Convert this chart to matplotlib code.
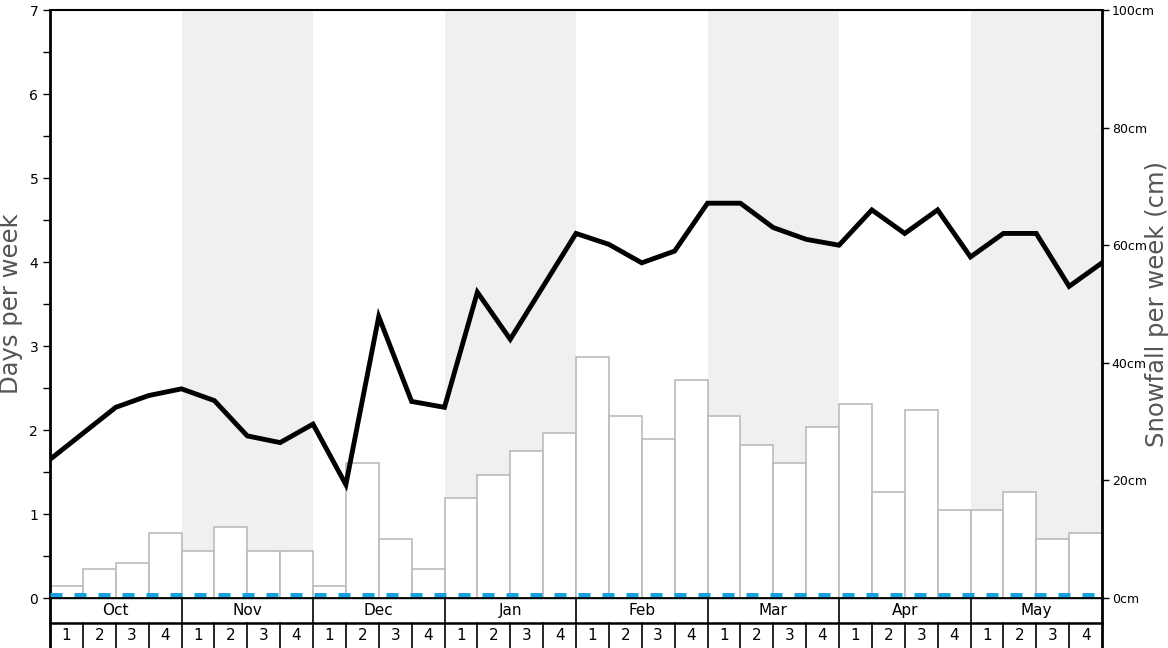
import matplotlib
matplotlib.use("Agg")
import matplotlib.pyplot as plt
import numpy as np

plt.rcParams["lines.scale_dashes"] = False

months = ["Oct", "Nov", "Dec", "Jan", "Feb", "Mar", "Apr", "May"]
week_labels = ["1", "2", "3", "4"]
snowfall_cm = [2, 5, 6, 11, 8, 12, 8, 8, 2, 23, 10, 5, 17, 21, 25, 28,
               41, 31, 27, 37, 31, 26, 23, 29, 33, 18, 32, 15, 15, 18, 10, 11]
snow_days = [1.65, 1.96, 2.27, 2.41, 2.49, 2.35, 1.93, 1.85, 2.07, 1.35, 3.35,
             2.34, 2.27, 3.64, 3.08, 3.71, 4.34, 4.21, 3.99, 4.13, 4.70, 4.70,
             4.41, 4.27, 4.20, 4.62, 4.34, 4.62, 4.06, 4.34, 4.34, 3.71, 3.99]
left_ticks = [0, 1, 2, 3, 4, 5, 6, 7]
right_ticks = [0, 20, 40, 60, 80, 100]

W, H = 1168, 648
fig = plt.figure(figsize=(W / 100, H / 100), dpi=100)
L, R, T, B = 50, 1102, 10, 598
ax = fig.add_axes([L / W, 1 - B / H, (R - L) / W, (B - T) / H])
n = len(snowfall_cm)
ax.set_xlim(0, n)
ax.set_ylim(0, 7)

# shading alternate months
for i in range(len(months)):
    if i % 2 == 1:
        ax.axvspan(i * 4, i * 4 + 4, color="#f0f0f0", zorder=0, lw=0)

# bars (snowfall, scaled to left axis: 100cm == 7)
heights = np.array(snowfall_cm) * 7 / 100
ax.bar(np.arange(n) + 0.5, heights, width=1.0, facecolor="white",
       edgecolor="#bbbbbb", linewidth=1.2, zorder=2)

# blue dashed line at bottom (12px dash, 12px gap)
ax.plot([0, n], [0.03, 0.03], color="#1a9fe0", lw=3.6, linestyle=(0, (8.64, 8.64)),
        solid_capstyle="butt", dash_capstyle="butt", zorder=3)

# black line
ax.plot(np.arange(n + 1), snow_days, color="black", lw=3.5, zorder=4,
        solid_joinstyle="miter")

ax.set_xticks([])
ax.set_yticks(left_ticks)
ax.set_yticks(np.arange(0.5, 7, 1), minor=True)
ax.tick_params(axis="y", which="both", length=5, width=1, labelsize=10)
for s in ["left", "right"]:
    ax.spines[s].set_linewidth(2)
ax.spines["top"].set_linewidth(1.5)
ax.spines["bottom"].set_linewidth(1)
ax.set_ylabel("Days per week", fontsize=17.5, color="#555555")
ax.yaxis.set_label_coords(-0.026, 0.5)

ax2 = ax.twinx()
ax2.set_ylim(0, 100)
ax2.set_yticks(right_ticks)
ax2.set_yticklabels([f"{t}cm" for t in right_ticks])
ax2.tick_params(axis="y", length=5, width=1, labelsize=9, pad=2)
for s in ["left", "right", "top", "bottom"]:
    ax2.spines[s].set_visible(False)
ax2.set_ylabel("Snowfall per week (cm)", fontsize=17.5, color="#555555")
ax2.yaxis.set_label_coords(1.041, 0.5)

# bottom table
tb = fig.add_axes([L / W, 0, (R - L) / W, (H - B) / H])
tb.set_xlim(0, n)
tb.set_ylim(0, 50)
tb.axis("off")
lk = dict(color="black", clip_on=False)
tb.plot([0, n], [25, 25], lw=1.8, **lk)
tb.plot([0, n], [50, 50], lw=1.2, **lk)
tb.plot([0, 0], [0, 50], lw=2, **lk)
tb.plot([n, n], [0, 50], lw=2, **lk)
for i, m in enumerate(months):
    tb.text(i * 4 + 2, 37.5, m, ha="center", va="center", fontsize=11)
    if i > 0:
        tb.plot([i * 4, i * 4], [25, 50], lw=1.2, **lk)
for j in range(n):
    tb.text(j + 0.5, 12, week_labels[j % 4], ha="center", va="center", fontsize=11)
    if j > 0:
        tb.plot([j, j], [0, 25], lw=1.2, **lk)

fig.savefig("out.png", dpi=100)
